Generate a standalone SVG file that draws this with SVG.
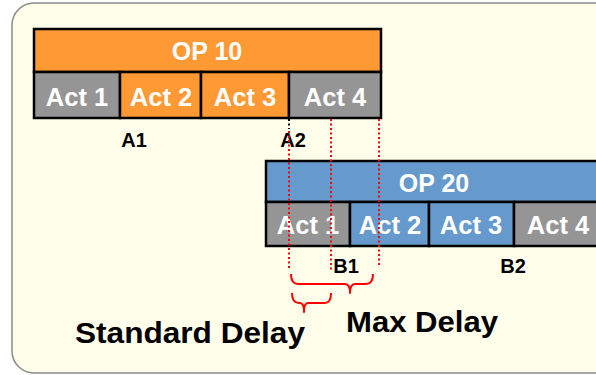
<svg xmlns="http://www.w3.org/2000/svg" width="596" height="375" viewBox="0 0 596 375">
  <style>
    .cell { stroke: #000; stroke-width: 2.5; }
    .orange { fill: #FF9933; }
    .gray { fill: #959595; }
    .blue { fill: #6699CC; }
    .lbl { font-family: "Liberation Sans", Arial, sans-serif; font-weight: bold; fill: #fff; text-anchor: middle; }
    .op { font-size: 25px; }
    .act { font-size: 25.5px; }
    .mark { font-family: "Liberation Sans", Arial, sans-serif; font-weight: bold; fill: #000; font-size: 20px; text-anchor: middle; }
    .big { font-family: "Liberation Sans", Arial, sans-serif; font-weight: bold; fill: #000; font-size: 30px; }
    .dot { stroke: #FF0000; stroke-width: 2; stroke-dasharray: 2 2.5; fill: none; }
    .dotk { stroke: #000; stroke-width: 2; stroke-dasharray: 2 2.5; fill: none; }
    .brace { stroke: #FF0000; stroke-width: 2; fill: none; stroke-linejoin: round; }
  </style>

  <!-- panel -->
  <rect x="12" y="3" width="620" height="370" rx="22" ry="22" fill="#FFFEEA" stroke="#8a8a8a" stroke-width="1.5"/>

  <!-- operation 10 -->
  <g id="op10">
    <rect class="cell orange" x="34" y="29" width="347" height="43"/>
    <text class="lbl op" x="207" y="60">OP 10</text>
    <g id="op10-act1">
      <rect class="cell gray" x="34" y="72" width="86" height="46"/>
      <text class="lbl act" x="77" y="106">Act 1</text>
    </g>
    <g id="op10-act2">
      <rect class="cell orange" x="120" y="72" width="81" height="46"/>
      <text class="lbl act" x="161" y="106">Act 2</text>
    </g>
    <g id="op10-act3">
      <rect class="cell orange" x="201" y="72" width="88" height="46"/>
      <text class="lbl act" x="245" y="106">Act 3</text>
    </g>
    <g id="op10-act4">
      <rect class="cell gray" x="289" y="72" width="92" height="46"/>
      <text class="lbl act" x="335" y="106">Act 4</text>
    </g>
  </g>

  <!-- operation 20 -->
  <g id="op20">
    <rect class="cell blue" x="266" y="161" width="340" height="41"/>
    <text class="lbl op" x="434" y="192">OP 20</text>
    <g id="op20-act1">
      <rect class="cell gray" x="266" y="202" width="84" height="44"/>
      <text class="lbl act" x="308" y="234">Act 1</text>
    </g>
    <g id="op20-act2">
      <rect class="cell blue" x="350" y="202" width="79" height="44"/>
      <text class="lbl act" x="390" y="234">Act 2</text>
    </g>
    <g id="op20-act3">
      <rect class="cell blue" x="429" y="202" width="85" height="44"/>
      <text class="lbl act" x="471" y="234">Act 3</text>
    </g>
    <g id="op20-act4">
      <rect class="cell gray" x="514" y="202" width="92" height="44"/>
      <text class="lbl act" x="558" y="234">Act 4</text>
    </g>
  </g>

  <!-- point labels -->
  <g id="labels">
    <text class="mark" x="134" y="147">A1</text>
    <text class="mark" x="293" y="147">A2</text>
    <text class="mark" x="346" y="273">B1</text>
    <text class="mark" x="513" y="273">B2</text>
  </g>

  <!-- timing guides and braces -->
  <g id="connectors">
    <line class="dotk" x1="289" y1="119" x2="289" y2="129"/>
    <line class="dot" x1="289" y1="131" x2="289" y2="270"/>
    <line class="dot" x1="331" y1="119" x2="331" y2="270"/>
    <line class="dot" x1="379" y1="119" x2="379" y2="265"/>
    <path class="brace" d="M291,274 Q291,284 298,284 L345,284 Q350,284 350,293 Q350,284 355,284 L366,284 Q373,284 373,274"/>
    <path class="brace" d="M292,293 Q292,303 299,303 L300,303 Q304,303 304,312 Q304,303 308,303 L325,303 Q331,303 331,293"/>
  </g>

  <g id="delays">
    <text class="big" x="75" y="343" textLength="230" lengthAdjust="spacingAndGlyphs">Standard Delay</text>
    <text class="big" x="346" y="332" textLength="152" lengthAdjust="spacingAndGlyphs">Max Delay</text>
  </g>
</svg>
